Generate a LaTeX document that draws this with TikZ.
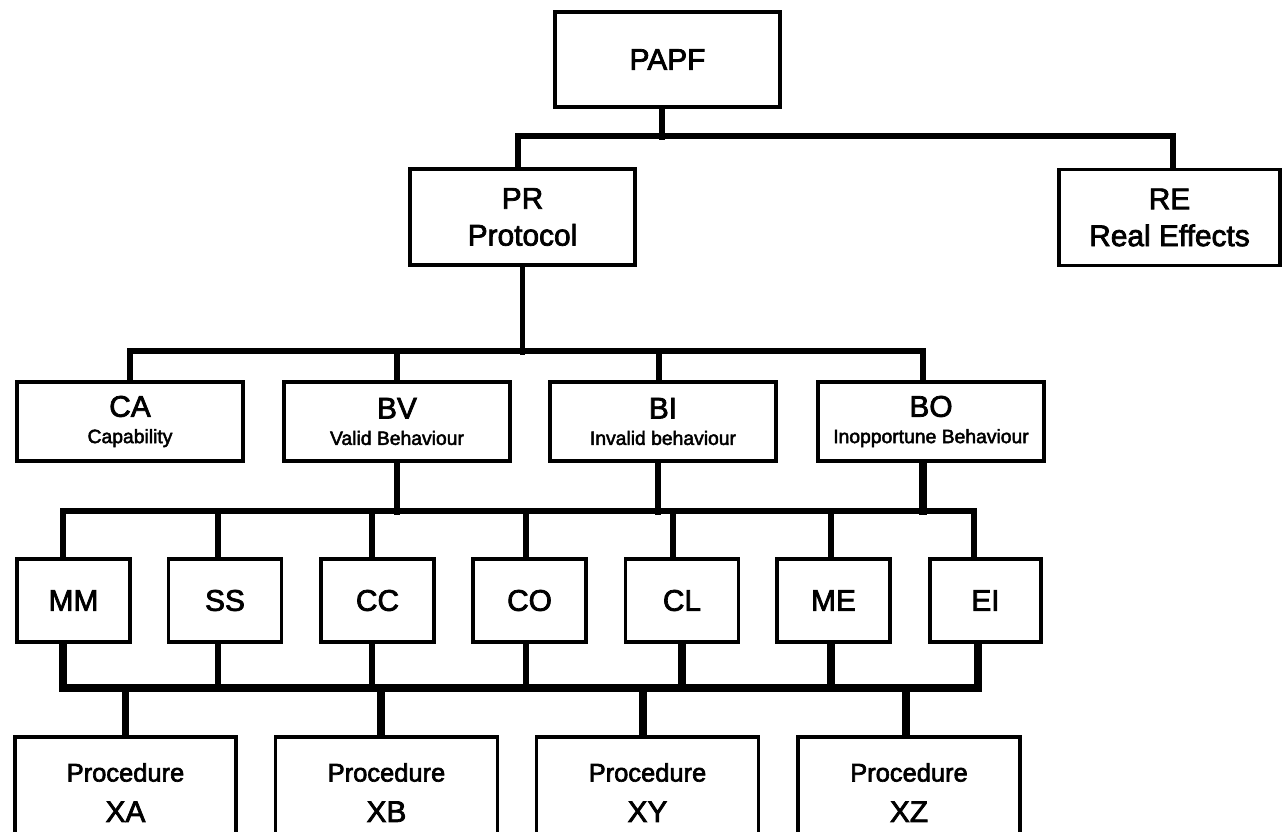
\documentclass[tikz,border=0pt]{standalone}
\usepackage{fontspec}
\setmainfont{Liberation Sans}
\newfontfamily\lblfont{Liberation Sans}[FakeBold=2.5]
\usetikzlibrary{calc}
\begin{document}
\begin{tikzpicture}[x=0.02cm, y=-0.02cm,
    box/.style={draw, line width=2.2pt, rectangle, align=center, inner sep=0pt},
    topbox/.style={box, minimum width=4.5cm, minimum height=1.92cm, font=\lblfont\fontsize{17}{21}\selectfont},
    midbox/.style={box, minimum width=4.52cm, minimum height=1.58cm, font=\lblfont\fontsize{17}{15}\selectfont},
    smallbox/.style={box, minimum width=2.26cm, minimum height=1.66cm, font=\lblfont\fontsize{17}{19}\selectfont},
    procbox/.style={box, minimum width=4.44cm, minimum height=2.22cm, font=\lblfont\fontsize{17}{23}\selectfont},
    link/.style={line width=3.4pt},
    bus/.style={line width=4.4pt}]
    \useasboundingbox (0,0) rectangle (1282,832);
    \clip (0,0) rectangle (1282,832);

    % Top levels
    \node[topbox, minimum height=1.9cm] (papf) at (667.5,59.5) {PAPF};
    \node[topbox] (pr) at (522.5,217) {PR\\Protocol};
    \node[topbox, minimum width=4.42cm] (re) at (1169.5,217.5) {RE\\Real Effects};

    % Behaviour row
    \node[midbox] (ca) at (130,421.5) {CA\\{\fontsize{11}{12}\selectfont Capability}};
    \node[midbox] (bv) at (397,421.5) {BV\\{\fontsize{11}{12}\selectfont Valid Behaviour}};
    \node[midbox] (bi) at (663,421.5) {BI\\{\fontsize{11}{12}\selectfont Invalid behaviour}};
    \node[midbox] (bo) at (931,421.5) {BO\\{\fontsize{11}{12}\selectfont Inopportune Behaviour}};

    % Small row
    \node[smallbox] (mm) at (73.5,600.5) {MM};
    \node[smallbox] (ss) at (225,600.5) {SS};
    \node[smallbox] (cc) at (377.5,600.5) {CC};
    \node[smallbox] (co) at (529.5,600.5) {CO};
    \node[smallbox] (cl) at (682,600.5) {CL};
    \node[smallbox] (me) at (833.5,600.5) {ME};
    \node[smallbox, minimum width=2.22cm] (ei) at (985.5,600.5) {EI};

    % Procedures
    \node[procbox, minimum width=4.42cm] (xa) at (125.5,792.5) {{\fontsize{14.5}{15}\selectfont Procedure}\\XA};
    \node[procbox] (xb) at (386.5,792.5) {{\fontsize{14.5}{15}\selectfont Procedure}\\XB};
    \node[procbox] (xy) at (647.5,792.5) {{\fontsize{14.5}{15}\selectfont Procedure}\\XY};
    \node[procbox] (xz) at (909,792.5) {{\fontsize{14.5}{15}\selectfont Procedure}\\XZ};

    % PAPF to PR and RE
    \draw[link] ([xshift=-0.11cm]papf.south) -- ++(0,31);
    \draw[link] ([xshift=-0.09cm]pr.north) -- ++(0,-31) -| ([xshift=0.07cm]re.north);

    % PR to behaviours
    \draw[link] (pr.south) -- ++(0,88);
    \draw[link] (ca.north) -- ++(0,-29) -| ([xshift=-0.16cm]bo.north);
    \draw[link] (bv.north) -- ++(0,-29);
    \draw[link] ([xshift=-0.08cm]bi.north) -- ++(0,-29);

    % Behaviours to small row
    \draw[link] (bv.south) -- ++(0,52);
    \draw[link] ([xshift=-0.1cm]bi.south) -- ++(0,52);
    \draw[bus] ([xshift=-0.16cm]bo.south) -- ++(0,52);
    \draw[link] ([xshift=-0.21cm]mm.north) -- ++(0,-46) -| ([xshift=-0.23cm]ei.north);
    \draw[link] ([xshift=-0.14cm]ss.north) -- ++(0,-46);
    \draw[link] ([xshift=-0.11cm]cc.north) -- ++(0,-46);
    \draw[link] ([xshift=-0.07cm]co.north) -- ++(0,-46);
    \draw[link] ([xshift=-0.18cm]cl.north) -- ++(0,-46);
    \draw[link] ([xshift=-0.05cm]me.north) -- ++(0,-46);

    % Small row to procedures
    \draw[bus] ([xshift=-0.21cm]mm.south) -- ++(0,44) -| ([xshift=-0.15cm]ei.south);
    \draw[link] ([xshift=-0.14cm]ss.south) -- ++(0,44);
    \draw[link] ([xshift=-0.11cm]cc.south) -- ++(0,44);
    \draw[link] ([xshift=-0.07cm]co.south) -- ++(0,44);
    \draw[bus] (cl.south) -- ++(0,44);
    \draw[bus] ([xshift=-0.05cm]me.south) -- ++(0,44);
    \draw[bus] (xa.north) -- ++(0,-51);
    \draw[bus] ([xshift=-0.11cm]xb.north) -- ++(0,-51);
    \draw[bus] ([xshift=-0.09cm]xy.north) -- ++(0,-51);
    \draw[bus] ([xshift=-0.06cm]xz.north) -- ++(0,-51);
\end{tikzpicture}
\end{document}
